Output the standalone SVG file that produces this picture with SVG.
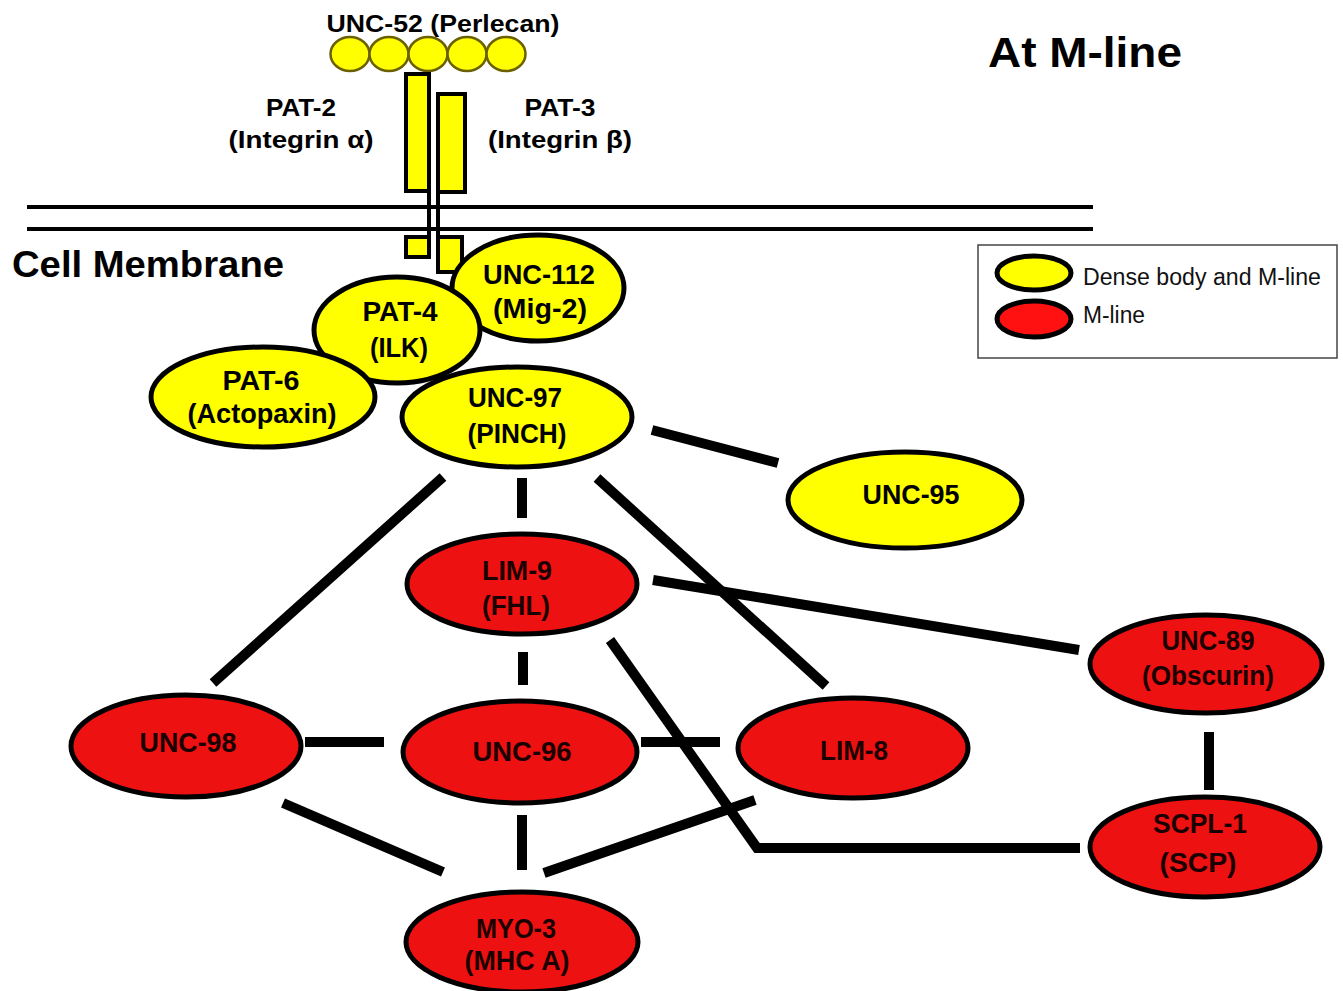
<svg xmlns="http://www.w3.org/2000/svg" width="1343" height="991" viewBox="0 0 1343 991">
<style>
.y{fill:#ffff00;stroke:#000;stroke-width:5}
.r{fill:#ee1111;stroke:#000;stroke-width:5}
.t{font-family:"Liberation Sans",Arial,sans-serif;font-weight:bold;font-size:27px;text-anchor:middle;fill:#000}
.s{font-size:24px}
.tr{fill:#1a0000}
.c{stroke:#000;stroke-width:10;fill:none;stroke-linecap:butt}
.lg{font-family:"Liberation Sans",Arial,sans-serif;font-size:23px;fill:#111}
</style>
<rect width="1343" height="991" fill="#fff"/>
<text x="988" y="67" font-family="Liberation Sans, Arial, sans-serif" font-weight="bold" font-size="43" textLength="194" lengthAdjust="spacingAndGlyphs">At M-line</text>
<g id="membrane">
<line x1="27" y1="207" x2="1093" y2="207" stroke="#000" stroke-width="4"/>
<line x1="27" y1="229" x2="1093" y2="229" stroke="#000" stroke-width="4"/>
<text x="12" y="277" font-family="Liberation Sans, Arial, sans-serif" font-weight="bold" font-size="36" textLength="272" lengthAdjust="spacingAndGlyphs">Cell Membrane</text>
</g>
<g id="unc52">
<text class="t s" x="443" y="32" textLength="233" lengthAdjust="spacingAndGlyphs">UNC-52 (Perlecan)</text>
<g fill="#ffff00" stroke="#6b6000" stroke-width="2.5">
<ellipse cx="350" cy="54" rx="19.5" ry="17"/>
<ellipse cx="389" cy="54" rx="19.5" ry="17"/>
<ellipse cx="428" cy="54" rx="19.5" ry="17"/>
<ellipse cx="467" cy="54" rx="19.5" ry="17"/>
<ellipse cx="506" cy="54" rx="19.5" ry="17"/>
</g>
</g>
<g id="pat2">
<rect x="406" y="74" width="23" height="117" fill="#ffff00" stroke="#000" stroke-width="4"/>
<line x1="429" y1="191" x2="429" y2="238" stroke="#000" stroke-width="4"/>
<rect x="406" y="237" width="23" height="20" fill="#ffff00" stroke="#000" stroke-width="4"/>
<text class="t s" x="301" y="116" textLength="70" lengthAdjust="spacingAndGlyphs">PAT-2</text>
<text class="t s" x="301" y="148" textLength="145" lengthAdjust="spacingAndGlyphs">(Integrin α)</text>
</g>
<g id="pat3">
<rect x="438" y="94" width="27" height="98" fill="#ffff00" stroke="#000" stroke-width="4"/>
<line x1="438" y1="192" x2="438" y2="238" stroke="#000" stroke-width="4"/>
<rect x="438" y="237" width="24" height="35" fill="#ffff00" stroke="#000" stroke-width="4"/>
<text class="t s" x="560" y="116" textLength="71" lengthAdjust="spacingAndGlyphs">PAT-3</text>
<text class="t s" x="560" y="148" textLength="144" lengthAdjust="spacingAndGlyphs">(Integrin β)</text>
</g>
<g id="connectors">
<line class="c" x1="652" y1="430" x2="778" y2="463"/>
<line class="c" x1="443" y1="477" x2="213" y2="683"/>
<line class="c" x1="522" y1="478" x2="522" y2="518"/>
<line class="c" x1="597" y1="478" x2="826" y2="686"/>
<line class="c" x1="653" y1="580" x2="1079" y2="650"/>
<line class="c" x1="523" y1="652" x2="523" y2="685"/>
<polyline class="c" stroke-width="9" points="610,640 757,848 1080,848"/>
<line class="c" x1="305" y1="742" x2="384" y2="742"/>
<line class="c" x1="641" y1="742" x2="720" y2="742"/>
<line class="c" x1="283" y1="803" x2="443" y2="872"/>
<line class="c" x1="522" y1="815" x2="522" y2="870"/>
<line class="c" x1="755" y1="800" x2="544" y2="873"/>
<line class="c" x1="1209" y1="732" x2="1209" y2="790"/>
</g>
<g id="unc112">
<ellipse class="y" cx="538" cy="288" rx="86" ry="53"/>
<text class="t" x="539" y="284" textLength="112" lengthAdjust="spacingAndGlyphs">UNC-112</text>
<text class="t" x="540" y="318" textLength="94" lengthAdjust="spacingAndGlyphs">(Mig-2)</text>
</g>
<g id="pat4">
<ellipse class="y" cx="397" cy="330" rx="83" ry="53"/>
<text class="t" x="400" y="321" textLength="75" lengthAdjust="spacingAndGlyphs">PAT-4</text>
<text class="t" x="399" y="357" textLength="58" lengthAdjust="spacingAndGlyphs">(ILK)</text>
</g>
<g id="pat6">
<ellipse class="y" cx="263" cy="397" rx="112" ry="50"/>
<text class="t" x="261" y="390" textLength="77" lengthAdjust="spacingAndGlyphs">PAT-6</text>
<text class="t" x="262" y="423" textLength="149" lengthAdjust="spacingAndGlyphs">(Actopaxin)</text>
</g>
<g id="unc97">
<ellipse class="y" cx="517" cy="417" rx="115" ry="50"/>
<text class="t" x="515" y="407" textLength="94" lengthAdjust="spacingAndGlyphs">UNC-97</text>
<text class="t" x="517" y="443" textLength="99" lengthAdjust="spacingAndGlyphs">(PINCH)</text>
</g>
<g id="unc95">
<ellipse class="y" cx="905" cy="500" rx="117" ry="48"/>
<text class="t" x="911" y="504" textLength="97" lengthAdjust="spacingAndGlyphs">UNC-95</text>
</g>
<g id="lim9">
<ellipse class="r" cx="522" cy="584" rx="115" ry="50"/>
<text class="t tr" x="517" y="580" textLength="70" lengthAdjust="spacingAndGlyphs">LIM-9</text>
<text class="t tr" x="516" y="615" textLength="68" lengthAdjust="spacingAndGlyphs">(FHL)</text>
</g>
<g id="unc89">
<ellipse class="r" cx="1206" cy="664" rx="116" ry="49"/>
<text class="t tr" x="1208" y="650" textLength="93" lengthAdjust="spacingAndGlyphs">UNC-89</text>
<text class="t tr" x="1208" y="685" textLength="132" lengthAdjust="spacingAndGlyphs">(Obscurin)</text>
</g>
<g id="unc98">
<ellipse class="r" cx="186" cy="746" rx="115" ry="51"/>
<text class="t tr" x="188" y="752" textLength="97" lengthAdjust="spacingAndGlyphs">UNC-98</text>
</g>
<g id="unc96">
<ellipse class="r" cx="520" cy="752" rx="117" ry="51"/>
<text class="t tr" x="522" y="761" textLength="99" lengthAdjust="spacingAndGlyphs">UNC-96</text>
</g>
<g id="lim8">
<ellipse class="r" cx="853" cy="748" rx="115" ry="50"/>
<text class="t tr" x="854" y="760" textLength="68" lengthAdjust="spacingAndGlyphs">LIM-8</text>
</g>
<g id="scpl1">
<ellipse class="r" cx="1205" cy="847" rx="115" ry="50"/>
<text class="t tr" x="1200" y="833" textLength="94" lengthAdjust="spacingAndGlyphs">SCPL-1</text>
<text class="t tr" x="1198" y="872" textLength="77" lengthAdjust="spacingAndGlyphs">(SCP)</text>
</g>
<g id="myo3">
<ellipse class="r" cx="522" cy="942" rx="116" ry="50"/>
<text class="t tr" x="516" y="938" textLength="80" lengthAdjust="spacingAndGlyphs">MYO-3</text>
<text class="t tr" x="517" y="970" textLength="105" lengthAdjust="spacingAndGlyphs">(MHC A)</text>
</g>
<g id="legend">
<rect x="978" y="245" width="359" height="113" fill="#fff" stroke="#444" stroke-width="1.5"/>
<ellipse cx="1034" cy="273" rx="37" ry="17" fill="#ffff00" stroke="#000" stroke-width="5"/>
<ellipse cx="1034" cy="319" rx="37" ry="18" fill="#ff1111" stroke="#000" stroke-width="5"/>
<text class="lg" x="1083" y="285" textLength="238" lengthAdjust="spacingAndGlyphs">Dense body and M-line</text>
<text class="lg" x="1083" y="323" textLength="62" lengthAdjust="spacingAndGlyphs">M-line</text>
</g>
</svg>
